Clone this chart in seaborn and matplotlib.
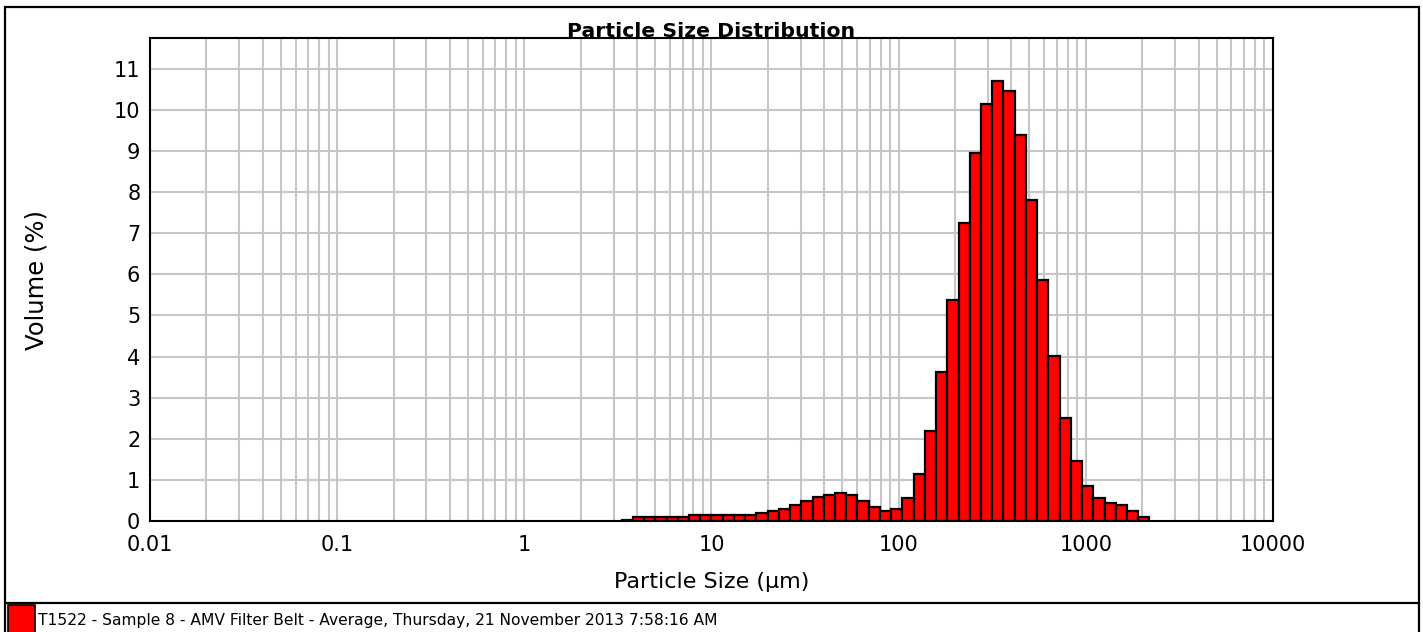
import numpy as np
import pandas as pd
import matplotlib
matplotlib.use("Agg")
import matplotlib.pyplot as plt
import seaborn as sns
from matplotlib.patches import Rectangle
from matplotlib.lines import Line2D
from matplotlib.ticker import LogLocator, FixedLocator, FixedFormatter

# size class edges (um) - Mastersizer classes that hold data
edges = [3.311, 3.802, 4.365, 5.012, 5.754, 6.607, 7.586, 8.710, 10.000, 11.482,
         13.183, 15.136, 17.378, 19.953, 22.909, 26.303, 30.200, 34.674, 39.811,
         45.709, 52.481, 60.256, 69.183, 79.433, 91.201, 104.713, 120.226, 138.038,
         158.489, 181.970, 208.930, 239.883, 275.423, 316.228, 363.078, 416.869,
         478.630, 549.541, 630.957, 724.436, 831.764, 954.993, 1096.478, 1258.925,
         1445.440, 1659.587, 1905.461, 2187.762]

# volume (%) per class
volume = [0.03, 0.10, 0.10, 0.10, 0.10, 0.10, 0.14, 0.14, 0.14, 0.14, 0.14, 0.14,
          0.19, 0.24, 0.30, 0.40, 0.49, 0.58, 0.64, 0.68, 0.63, 0.48, 0.34, 0.24,
          0.30, 0.55, 1.15, 2.20, 3.62, 5.37, 7.24, 8.95, 10.15, 10.70, 10.45,
          9.40, 7.80, 5.87, 4.01, 2.50, 1.45, 0.85, 0.55, 0.44, 0.39, 0.24, 0.10]

x_ticks = [0.01, 0.1, 1, 10, 100, 1000, 10000]
x_labels = ["0.01", "0.1", "1", "10", "100", "1000", "10000"]
y_ticks = list(range(0, 12))

legend_label = "T1522 - Sample 8 - AMV Filter Belt - Average, Thursday, 21 November 2013 7:58:16 AM"

e = np.array(edges)
df = pd.DataFrame({"size": np.sqrt(e[:-1] * e[1:]), "volume": volume})

sns.set_style("white")
plt.rcParams["font.family"] = ["DejaVu Sans"]
plt.rcParams["text.color"] = "black"
plt.rcParams["axes.labelcolor"] = "black"
plt.rcParams["xtick.color"] = "black"
plt.rcParams["ytick.color"] = "black"

W, H = 1423, 632
fig = plt.figure(figsize=(W / 100, H / 100), dpi=100)
ax = fig.add_axes([150 / W, 111 / H, 1123 / W, 483 / H])

sns.histplot(data=df, x="size", weights="volume", bins=list(np.log10(e)), log_scale=True,
             stat="count", color="#ff0000", alpha=1, edgecolor="black",
             linewidth=1.6, ax=ax, zorder=3)

ax.set_xlim(0.01, 10000)
ax.set_ylim(0, 11.75)
ax.xaxis.set_major_locator(FixedLocator(x_ticks))
ax.xaxis.set_major_formatter(FixedFormatter(x_labels))
ax.xaxis.set_minor_locator(LogLocator(base=10, subs=np.arange(2, 10)))
ax.xaxis.set_minor_formatter(plt.NullFormatter())
ax.set_yticks(y_ticks)

ax.grid(True, which="both", axis="x", color="#c6c6c6", linewidth=1.5, zorder=0)
ax.grid(True, which="major", axis="y", color="#c6c6c6", linewidth=1.5, zorder=0)
ax.set_axisbelow(True)
ax.tick_params(axis="both", which="both", length=0, labelsize=15, labelcolor="black")
ax.tick_params(axis="x", pad=10)
ax.tick_params(axis="y", pad=7)
for sp in ax.spines.values():
    sp.set_visible(True)
    sp.set_color("black")
    sp.set_linewidth(1.5)

ax.set_title("Particle Size Distribution", fontsize=14.7, fontweight="bold", pad=1)
ax.set_xlabel("Particle Size (µm)", fontsize=16, labelpad=12)
ax.set_ylabel("Volume (%)", fontsize=17.5, labelpad=47)

# outer frame and legend strip
fig.add_artist(Rectangle((5 / W, -0.1), (1419 - 5) / W, (H - 7) / H + 0.1,
                         transform=fig.transFigure, fill=False, lw=1.6, color="black"))
fig.add_artist(Line2D([5 / W, 1419 / W], [(H - 603) / H] * 2,
                      transform=fig.transFigure, lw=1.6, color="black"))
fig.add_artist(Rectangle((8 / W, -0.1), 27 / W, (H - 605) / H + 0.1,
                         transform=fig.transFigure, facecolor="#ff0000",
                         edgecolor="black", lw=1.2))
fig.text(38 / W, (H - 620) / H, legend_label, fontsize=11.2, va="center", ha="left")

fig.savefig("out.png", dpi=100)
